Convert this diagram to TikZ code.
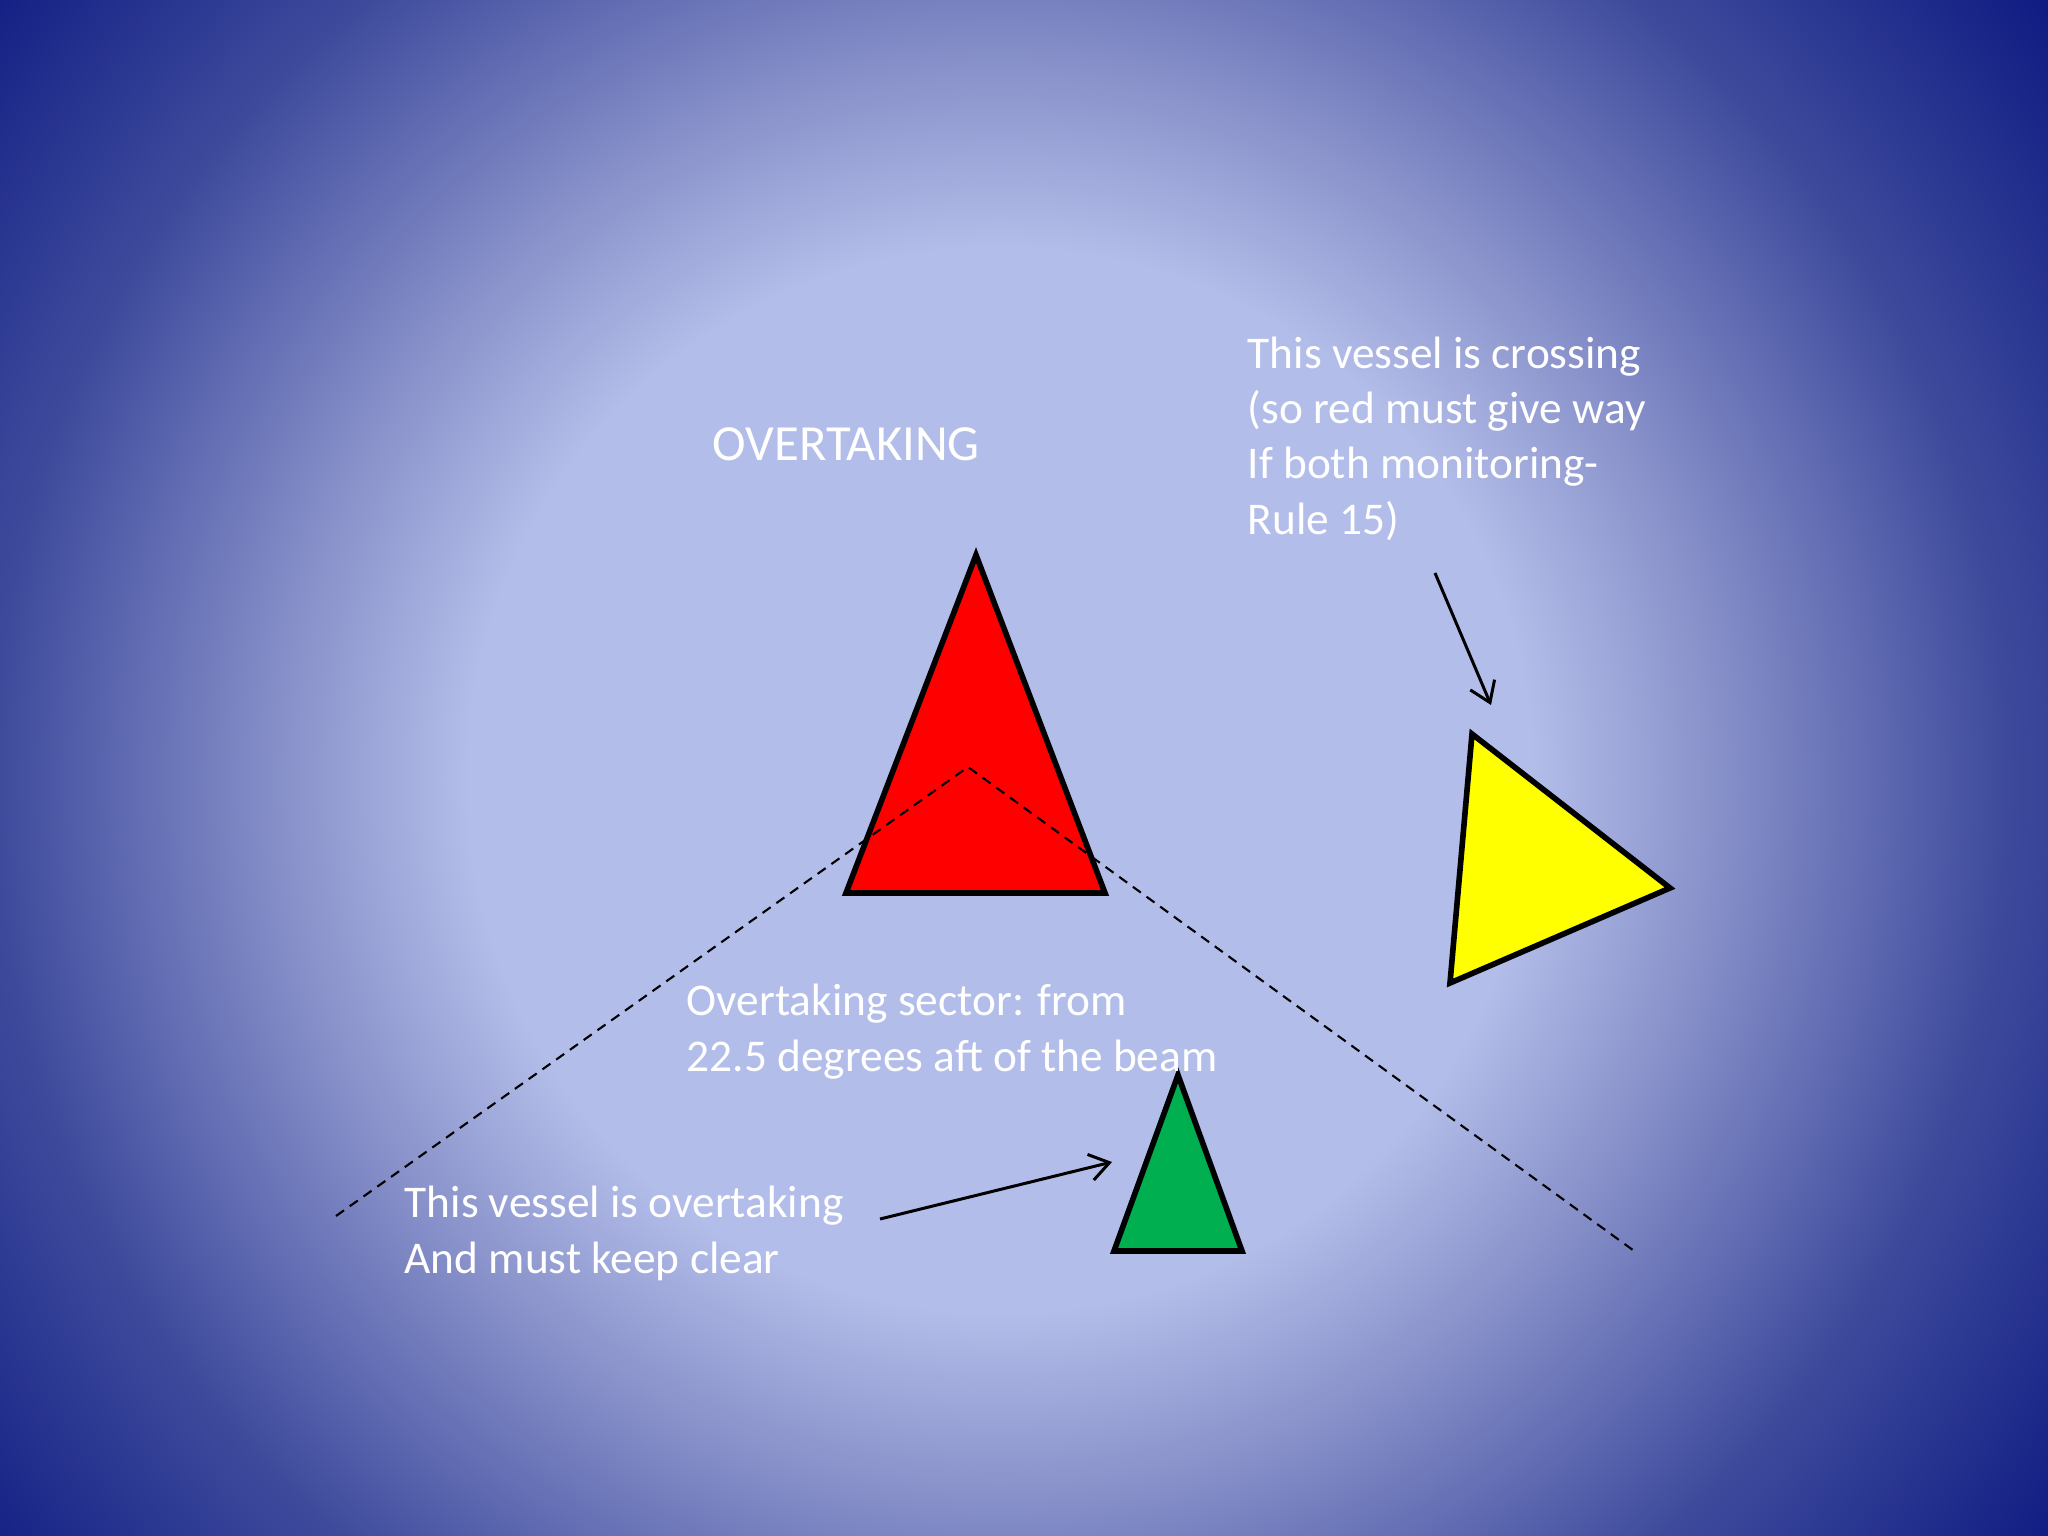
\documentclass[tikz,border=0pt]{standalone}
\usepackage{fontspec}
\setmainfont{Carlito}
\usepackage{xcolor}
\usepackage{tikz}
\usetikzlibrary{arrows.meta}
\definecolor{bglight}{HTML}{B3BDE9}
\definecolor{bgmid}{HTML}{8C95CC}
\definecolor{bgmid2}{HTML}{6570B5}
\definecolor{bgdeep}{HTML}{3E4B9C}
\definecolor{bgnavy}{HTML}{101C82}
\definecolor{text}{HTML}{FFFFFF}
\definecolor{redboat}{HTML}{FF0000}
\definecolor{yellowboat}{HTML}{FFFF00}
\definecolor{greenboat}{HTML}{00B050}
\pgfdeclareradialshading{slidebg}{\pgfpoint{0bp}{0bp}}{%
  color(0bp)=(bglight); color(9.5bp)=(bglight); color(12.5bp)=(bgmid);
  color(15.2bp)=(bgmid2); color(17.9bp)=(bgdeep); color(23.2bp)=(bgnavy);
  color(50bp)=(bgnavy)}
\tikzset{
  boat/.style={draw=black, line width=1.6pt, line join=miter},
  pointer/.style={draw=black, line width=0.85pt, -{Straight Barb[length=5.5pt,width=7.5pt]}},
  sector/.style={draw=black, line width=0.6pt, dash pattern=on 2.8pt off 2pt},
  lab/.style={text=text, font=\fontsize{12.9}{15.65}\selectfont, align=left, inner sep=0pt, anchor=base west},
  labt/.style={lab, font=\fontsize{14.4}{17}\selectfont},
}

\begin{document}
\begin{tikzpicture}[x=0.01cm,y=-0.01cm]
  \useasboundingbox (0,0) rectangle (2048,1536);
  \begin{scope}
    \clip (0,0) rectangle (2048,1536);
    \shade[shading=slidebg] (-400,-620) rectangle (2400,2180);
  \end{scope}

  % vessels
  \draw[boat, fill=redboat] (976,555) -- (1105,893) -- (846,893) -- cycle;
  \draw[boat, fill=yellowboat] (1472,734) -- (1670,888) -- (1450,983) -- cycle;
  \draw[boat, fill=greenboat] (1178,1075) -- (1242,1251) -- (1114,1251) -- cycle;

  % overtaking sector
  \coordinate (sectorL) at (336,1216);
  \coordinate (stern) at (968,767);
  \coordinate (sectorR) at (1637,1253);
  \draw[sector] (sectorL) -- (stern) -- (sectorR);

  % base anchor sits on the last line
  \node[labt] (title) at (712,460) {OVERTAKING};
  \node[lab] (crossing) at (1247,534) {This vessel is crossing\\(so red must give way\\If both monitoring-\\Rule 15)};
  \node[lab] (sectortxt) at (686,1071) {Overtaking sector: from\\22.5 degrees aft of the beam};
  \node[lab] (overtaking) at (404,1273) {This vessel is overtaking\\And must keep clear};

  \coordinate (crossfrom) at (1435,573);
  \coordinate (crossto) at (1491,705);
  \coordinate (overfrom) at (880,1219);
  \coordinate (overto) at (1112,1162);
  \draw[pointer] (crossfrom) -- (crossto);
  \draw[pointer] (overfrom) -- (overto);
\end{tikzpicture}
\end{document}
